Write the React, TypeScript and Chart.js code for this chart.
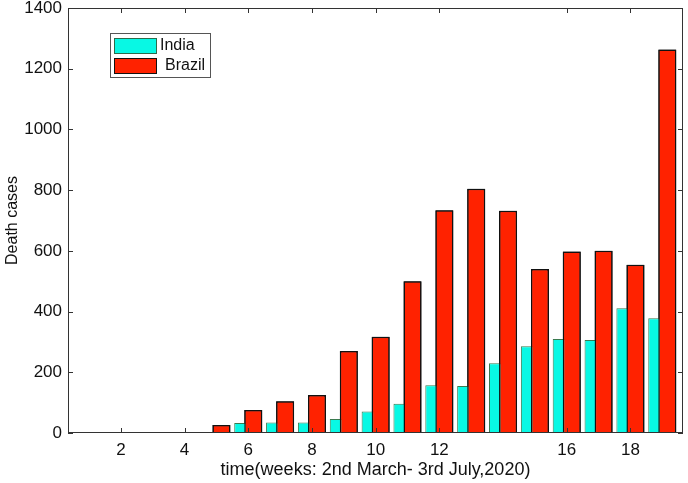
import React, { useEffect, useRef } from 'react';
import { Chart, registerables } from 'chart.js';

Chart.register(...registerables);

const weeks = [1, 2, 3, 4, 5, 6, 7, 8, 9, 10, 11, 12, 13, 14, 15, 16, 17, 18, 19];
const india = [0, 0, 0, 2, 3, 33, 35, 35, 46, 71, 96, 157, 155, 230, 286, 310, 306, 411, 378];
const brazil = [0, 0, 0, 0, 26, 76, 105, 125, 270, 317, 500, 734, 805, 732, 540, 598, 600, 554, 1263];
const xTickLabels = [2, 4, 6, 8, 10, 12, 16, 18];
const yTickValues = [0, 200, 400, 600, 800, 1000, 1200, 1400];
const seriesNames = ['India', 'Brazil'];
const xTitle = 'time(weeks: 2nd March- 3rd July,2020)';
const yTitle = 'Death cases';

const FONT = '"Liberation Sans", Arial, Helvetica, sans-serif';
const CYAN = '#08F8E4';
const RED = '#FF2200';

const redrawBrazil = {
  id: 'redrawBrazil',
  afterDatasetsDraw(chart: any) {
    const { ctx, chartArea } = chart;
    const meta = chart.getDatasetMeta(1);
    ctx.save();
    ctx.beginPath();
    ctx.rect(chartArea.left, chartArea.top, chartArea.right - chartArea.left, chartArea.bottom - chartArea.top);
    ctx.clip();
    meta.controller.draw();
    ctx.restore();
  },
};

const framePlugin = {
  id: 'frame',
  afterDraw(chart: any) {
    const { ctx, chartArea, scales } = chart;
    const { left, right, top, bottom } = chartArea;
    const x = scales.x;
    const y = scales.y;
    ctx.save();
    ctx.strokeStyle = '#333';
    ctx.lineWidth = 1;
    ctx.strokeRect(Math.round(left) + 0.5, Math.round(top) + 0.5, Math.round(right - left) - 1, Math.round(bottom - top) - 1);
    ctx.beginPath();
    const tl = 5;
    xTickLabels.forEach((v) => {
      const px = Math.round(x.getPixelForValue(v)) + 0.5;
      ctx.moveTo(px, bottom);
      ctx.lineTo(px, bottom - tl);
      ctx.moveTo(px, top);
      ctx.lineTo(px, top + tl);
    });
    yTickValues.forEach((v) => {
      const py = Math.round(y.getPixelForValue(v)) + 0.5;
      ctx.moveTo(left, py);
      ctx.lineTo(left + tl, py);
      ctx.moveTo(right, py);
      ctx.lineTo(right - tl, py);
    });
    ctx.stroke();

    // legend box
    const lx = 110, ly = 33, lw = 100, lh = 44;
    ctx.fillStyle = '#fff';
    ctx.fillRect(lx, ly, lw, lh);
    ctx.strokeStyle = '#555';
    ctx.strokeRect(lx + 0.5, ly + 0.5, lw, lh);
    const colors = [CYAN, RED];
    const borders = ['#2c6b4c', '#111'];
    ctx.font = `16px ${FONT}`;
    ctx.textBaseline = 'middle';
    seriesNames.forEach((name, i) => {
      const sy = ly + 5 + i * 20;
      ctx.fillStyle = colors[i];
      ctx.fillRect(lx + 4, sy, 42, 15);
      ctx.strokeStyle = borders[i];
      ctx.lineWidth = 1;
      ctx.strokeRect(lx + 4.5, sy + 0.5, 42, 15);
      ctx.fillStyle = '#111';
      ctx.fillText(name, lx + 50 + (i === 1 ? 5 : 0), sy + 8);
    });
    ctx.restore();
  },
};

export default function App() {
  const ref = useRef<HTMLCanvasElement | null>(null);
  useEffect(() => {
    if (!ref.current) return;
    const chart = new Chart(ref.current, {
      type: 'bar',
      data: {
        labels: weeks,
        datasets: [
          {
            label: seriesNames[0],
            data: india,
            backgroundColor: CYAN,
            borderColor: '#3a7a50',
            borderWidth: 1,
            categoryPercentage: 0.63,
            barPercentage: 1.8,
          },
          {
            label: seriesNames[1],
            data: brazil,
            backgroundColor: RED,
            borderColor: '#111',
            borderWidth: 1.5,
            categoryPercentage: 0.63,
            barPercentage: 1.8,
          },
        ],
      },
      options: {
        animation: false,
        responsive: false,
        maintainAspectRatio: false,
        layout: { padding: { top: 8, right: 5, left: 0, bottom: 0 } },
        plugins: {
          legend: { display: false },
          tooltip: { enabled: false },
        },
        scales: {
          x: {
            type: 'linear',
            min: 0.34,
            max: 19.65,
            offset: false,
            grid: { display: false, drawTicks: false },
            border: { display: false },
            afterBuildTicks: (axis: any) => {
              axis.ticks = xTickLabels.map((value) => ({ value }));
            },
            afterFit: (axis: any) => {
              axis.height = 50;
              axis.paddingLeft = 0;
              axis.paddingRight = 0;
            },
            ticks: {
              color: '#111',
              font: { family: FONT, size: 17 },
              padding: 7,
              maxRotation: 0,
              autoSkip: false,
              callback: (v: any) => String(v),
            },
            title: {
              display: true,
              text: xTitle,
              color: '#111',
              font: { family: FONT, size: 18 },
              padding: { top: 0, bottom: 2 },
            },
          },
          y: {
            min: 0,
            max: 1400,
            grid: { display: false, drawTicks: false },
            border: { display: false },
            afterBuildTicks: (axis: any) => {
              axis.ticks = yTickValues.map((value) => ({ value }));
            },
            afterFit: (axis: any) => {
              axis.width = 68;
              axis.paddingTop = 0;
              axis.paddingBottom = 0;
            },
            ticks: {
              color: '#111',
              font: { family: FONT, size: 17 },
              padding: 6,
              callback: (v: any) => String(v),
            },
            title: {
              display: true,
              text: yTitle,
              color: '#111',
              font: { family: FONT, size: 16 },
              padding: { top: 3, bottom: 0 },
            },
          },
        },
      },
      plugins: [redrawBrazil, framePlugin],
    });
    return () => chart.destroy();
  }, []);
  return (
    <div style={{ position: 'absolute', left: 0, top: 0, width: 688, height: 483, background: '#fff' }}>
      <canvas ref={ref} width={688} height={483} />
    </div>
  );
}
